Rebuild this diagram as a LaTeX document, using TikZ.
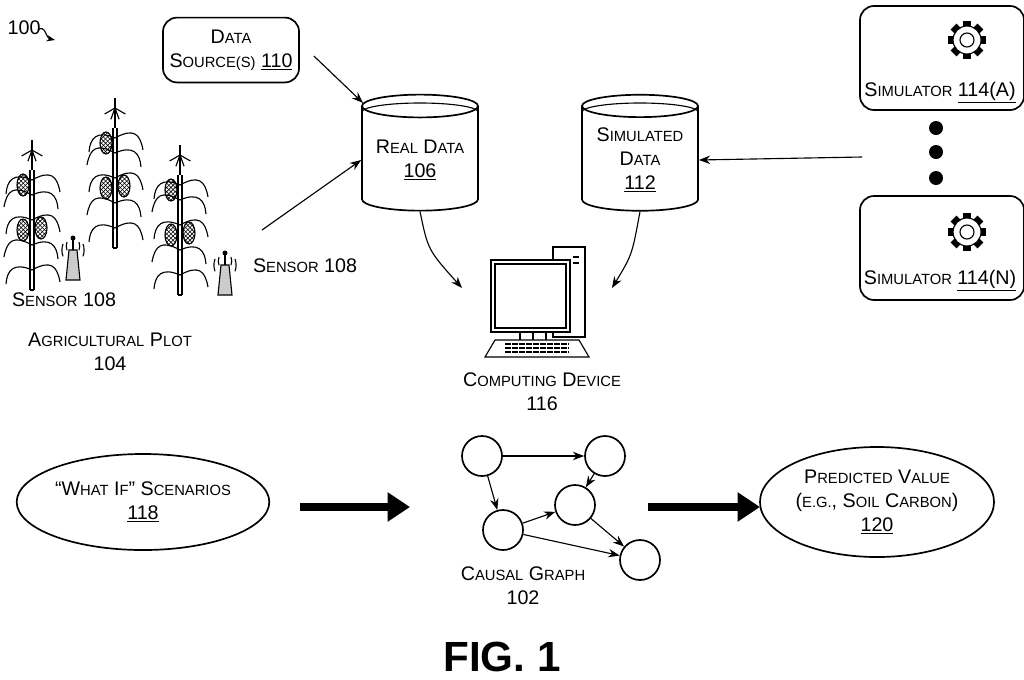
\documentclass[tikz,border=0pt]{standalone}
\usepackage{fontspec}
\setmainfont{Liberation Sans}
\usetikzlibrary{shapes.geometric,arrows.meta,positioning,patterns}
\newcommand{\SC}[2]{#1{\fontsize{10.5}{12}\selectfont #2}}
\tikzset{
  lbl/.style={font=\fontsize{14}{17}\selectfont, align=center, inner sep=1pt},
  box/.style={draw, very thick, rounded corners=10pt, lbl},
  db/.style={draw, very thick, cylinder, shape border rotate=90, aspect=0.25,
    minimum width=2.9cm, minimum height=2.9cm, lbl},
  blob/.style={draw, very thick, ellipse, lbl},
  cnode/.style={draw, very thick, circle, minimum size=1cm, inner sep=0pt},
  arr/.style={-{Stealth[length=8pt]}, thick},
  fat/.style={-{Triangle[length=16pt,width=20pt]}, line width=5pt},
  pics/plant/.style={code={
    \draw[thick] (-2,0) -- (-2,-120) (2,0) -- (2,-120) (-2,0) -- (2,0);
    \draw[thick] (0,-120) -- (0,-150);
    \foreach \h/\s in {20/1,45/-1,70/1,95/-1,110/1}{
      \draw[thick] (0,-\h) .. controls (\s*18,-\h-10) and (\s*25,-\h-5) .. (\s*28,-\h+12);
      \draw[thick] (0,-\h) .. controls (-\s*18,-\h-8) and (-\s*25,-\h) .. (-\s*26,-\h+14);}
    \foreach \cx/\cy in {-9/-60,9/-62,-9/-105}{
      \draw[thick, pattern=crosshatch] (\cx,\cy) ellipse (6 and 11);}
    \foreach \a in {-30,-10,10,30}
      \draw[thick] (0,-140) -- ++(90+\a*2:12);
  }},
  pics/sensor/.style={code={
    \draw[thick, fill=black!20] (-7,0) -- (-4,-30) -- (4,-30) -- (7,0) -- cycle;
    \draw[thick] (0,-30) -- (0,-42);
    \fill (0,-42) circle (2.5);
    \draw[thick] (-6,-38) arc (200:160:12) (6,-38) arc (-20:20:12);
    \draw[thick] (-10,-36) arc (200:160:18) (10,-36) arc (-20:20:18);
  }},
  pics/gear/.style={code={
    \foreach \a in {0,45,...,315}
      \draw[line width=6pt] (0,0) ++(\a:13) -- ++(\a:6);
    \draw[thick, fill=white] (0,0) circle (14);
    \draw[thick] (0,0) circle (7);
  }},
  pics/pc/.style={code={
    \draw[thick] (68,-25) rectangle (100,65);
    \draw[line width=2pt] (88,-15) -- (94,-15) (88,-9) -- (94,-9);
    \draw[thick, fill=white] (6,-12) rectangle (85,60);
    \draw[thick] (10,-8) rectangle (81,56);
    \draw[thick] (35,60) -- (35,68) (48,60) -- (48,68) (61,60) -- (61,68);
    \draw[thick, fill=white] (10,68) -- (94,68) -- (104,85) -- (0,85) -- cycle;
    \foreach \yy in {72,76,80} \draw[line width=2pt, dash pattern=on 4pt off 1pt] (20,\yy) -- (84,\yy);
  }},
}
\begin{document}
\begin{tikzpicture}[x=0.025cm, y=-0.025cm]
\useasboundingbox (0,0) rectangle (1024,679);
% label 100
\node[lbl, anchor=west] (fig) at (6,28) {100};
\draw[-{Stealth[length=6pt]}, thick] (38,30) .. controls (45,24) and (46,38) .. (55,40);
% field
\foreach \px/\py in {32/290, 115/248, 180/295}
  \pic at (\px,\py) {plant};
\pic at (73,280) {sensor};
\pic at (225,295) {sensor};
\node[lbl] (s1) at (64,300) {\SC{S}{ENSOR} 108};
\node[lbl] (s2) at (305,266) {\SC{S}{ENSOR} 108};
\node[lbl] (plot) at (110,352) {\SC{A}{GRICULTURAL} \SC{P}{LOT}\\104};
\coordinate (sensTip) at (262,230);
% data
\node[box, minimum width=3.4cm, minimum height=1.62cm] (src) at (231,50) {\SC{D}{ATA}\\\SC{S}{OURCE(S)} \underline{110}};
\node[db] (real) at (420,160) {\SC{R}{EAL} \SC{D}{ATA}\\\underline{106}};
\node[db] (sim) at (640,160) {\SC{S}{IMULATED}\\\SC{D}{ATA}\\\underline{112}};
\draw[thick] (362,112) arc (180:360:58 and 9);
\draw[thick] (582,112) arc (180:360:58 and 9);
% simulators
\node[box, minimum width=4.1cm, minimum height=2.6cm] (simA) at (942,58) {};
\node[box, minimum width=4.1cm, minimum height=2.6cm] (simN) at (942,248) {};
\node[lbl] at (940,93) {\SC{S}{IMULATOR} \underline{114(A)}};
\node[lbl] at (940,281) {\SC{S}{IMULATOR} \underline{114(N)}};
\pic at (967,40) {gear};
\pic at (967,232) {gear};
\foreach \dy in {128,152,178} \fill (936,\dy) circle (7);
\coordinate (simIn) at (862,157);
% computer
\pic at (485,272) {pc};
\node[lbl] (pc) at (542,392) {\SC{C}{OMPUTING} \SC{D}{EVICE}\\116};
\coordinate (pcL) at (462,288);
\coordinate (pcR) at (612,288);
% arrows
\draw[arr] (src.east) ++(14,6) -- (real.north west);
\draw[arr] (sensTip) -- (real.west);
\draw[arr] (simIn) -- (sim.east);
\draw[arr] (real.south) .. controls (428,250) .. (pcL);
\draw[arr] (sim.south) .. controls (632,255) .. (pcR);
% causal graph
\node[cnode] (a) at (482,456) {};
\node[cnode] (b) at (605,456) {};
\node[cnode] (c) at (575,505) {};
\node[cnode] (d) at (503,530) {};
\node[cnode] (e) at (640,560) {};
\draw[arr] (a) -- (b);
\draw[arr] (a) -- (d);
\draw[arr] (b) -- (c);
\draw[arr] (d) -- (c);
\draw[arr] (d) -- (e);
\draw[arr] (c) -- (e);
\node[lbl] (cg) at (523,586) {\SC{C}{AUSAL} \SC{G}{RAPH}\\102};
% scenarios and prediction
\node[blob, minimum width=3.15cm, minimum height=2.4cm] (what) at (143,502) {``\SC{W}{HAT} \SC{I}{F}'' \SC{S}{CENARIOS}\\\underline{118}};
\node[blob, minimum width=4.4cm, minimum height=2.75cm] (pred) at (877,502) {\SC{P}{REDICTED} \SC{V}{ALUE}\\(\SC{}{E.G.}, \SC{S}{OIL} \SC{C}{ARBON})\\\underline{120}};
\coordinate (gL) at (410,507);
\coordinate (gR) at (648,507);
\draw[fat] (300,507) -- (gL);
\draw[fat] (gR) -- (760,507);
\node[font=\bfseries\fontsize{30}{34}\selectfont] (fig1) at (502,657) {FIG. 1};
\end{tikzpicture}
\end{document}
